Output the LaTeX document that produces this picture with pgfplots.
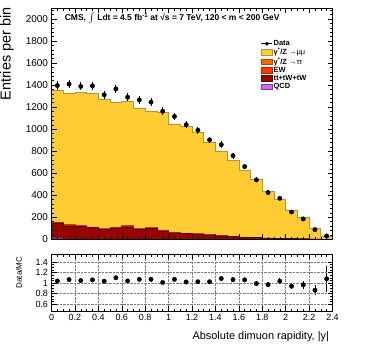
\documentclass[border=0pt]{standalone}
\usepackage{fontspec}
\setmainfont{Liberation Sans}
\usepackage{pgfplots}
\usepackage{pgfplotstable}
\pgfplotsset{compat=1.18}

\definecolor{zmm}{RGB}{255,204,51}
\definecolor{zmmline}{RGB}{185,145,60}
\definecolor{ztt}{RGB}{255,102,0}
\definecolor{ew}{RGB}{255,51,0}
\definecolor{ttb}{RGB}{153,0,0}
\definecolor{qcd}{RGB}{204,102,255}

% upper edge of every layer of the stack, by bin low edge (last row closes the step)
\pgfplotstableread{
lo   mumu  tautau ew   ttbar qcd
0.0  1355  156    152  147   12
0.1  1330  136    130  121   3
0.2  1335  124    120  116   1
0.3  1325  113    110  106   0
0.4  1275  97     94   89    0
0.5  1245  109    105  100   0
0.6  1250  125    120  106   0
0.7  1193  97     93   88    0
0.8  1166  106    102  97    0
0.9  1155  85     81   76    0
1.0  1048  67     63   58    0
1.1  1027  58     55   50    0
1.2  969   50     48   45    0
1.3  882   43     41   38    0
1.4  803   34     32   30    0
1.5  721   29     28   26    0
1.6  630   21     20   18    0
1.7  545   17     16   14    0
1.8  440   13     12   11    0
1.9  364   10     9    8     0
2.0  266   7      7    6     0
2.1  196   5      5    4     0
2.2  103   3      3    3     0
2.3  30    2      2    2     0
2.4  30    2      2    2     0
}\stacks

\pgfplotstableread{
ctr   data  err  ratio  rerr
0.05  1396  37   1.04   0.028
0.15  1409  38   1.065  0.029
0.25  1388  37   1.047  0.028
0.35  1393  37   1.06   0.029
0.45  1312  36   1.035  0.029
0.55  1365  37   1.10   0.030
0.65  1290  36   1.04   0.030
0.75  1266  36   1.07   0.030
0.85  1245  35   1.07   0.031
0.95  1163  34   1.01   0.030
1.05  1115  33   1.07   0.032
1.15  1040  32   1.02   0.032
1.25  991   31   1.025  0.033
1.35  903   30   1.025  0.035
1.45  860   29   1.085  0.037
1.55  760   28   1.065  0.039
1.65  660   26   1.06   0.042
1.75  539   23   0.99   0.044
1.85  424   21   0.97   0.048
1.95  372   19   1.035  0.055
2.05  248   16   0.94   0.062
2.15  185   14   0.965  0.072
2.25  88    9    0.865  0.095
2.35  30    5    1.08   0.25
}\points

\pgfplotsset{
  hist/.style={const plot, line width=0.6bp,
    legend image code/.code={\draw[##1, line width=0.5bp] (0bp,-2.8bp) rectangle (11bp,2.8bp);}},
  datapts/.style={only marks, mark=*, mark size=2.2bp, black,
    error bars/y dir=both, error bars/y explicit, error bars/error mark=none,
    error bars/error bar style={line width=0.8bp, black}},
}

\begin{document}
\begin{tikzpicture}
\path[use as bounding box] (0,0) rectangle (374bp,-359bp);
\pgfplotsset{every axis/.append style={
  scale only axis, width=281bp, xmin=0, xmax=2.4,
  axis on top, tick align=inside,
  axis line style={line width=0.7bp},
  every tick/.style={black, line width=0.5bp},
  major tick length=5bp, minor tick length=2.5bp,
  xtick distance=0.2, minor x tick num=3,
  /pgf/number format/assume math mode=true,
  /pgf/number format/1000 sep={},
}}

% main panel
\begin{axis}[
  at={(51.5bp,-239.3bp)}, anchor=south west, height=231.3bp,
  ymin=0, ymax=2100, ytick distance=200, minor y tick num=4,
  xticklabels={},
  yticklabel style={font=\fontsize{10}{12}\selectfont},
  ylabel={Entries per bin},
  every axis y label/.style={at={(axis description cs:-0.122,1.018)}, rotate=90, anchor=south east, font=\fontsize{14.5}{16}\selectfont},
  legend cell align=left,
  legend style={at={(rel axis cs:0.745,0.864)}, anchor=north west, draw=none, fill=none,
    font=\fontsize{7.5}{8}\selectfont, inner sep=0pt, row sep=-0.4bp,
    nodes={inner sep=0.8bp}},
]
\addlegendimage{legend image code/.code={\draw[black, line width=0.8bp] (0bp,0bp) -- (11bp,0bp); \fill[black] (5.5bp,0bp) circle (1.7bp);}}
\addlegendentry{\bfseries Data}
\addplot[hist, fill=zmm, draw=zmmline] table[x=lo, y=mumu] {\stacks} \closedcycle;
\addlegendentry{{\bfseries γ\textsuperscript{*}/Z} →μμ}
\addplot[hist, fill=ztt, draw=ztt!70!black] table[x=lo, y=tautau] {\stacks} \closedcycle;
\addlegendentry{{\bfseries γ\textsuperscript{*}/Z} →ττ}
\addplot[hist, fill=ew, draw=ew!70!black] table[x=lo, y=ew] {\stacks} \closedcycle;
\addlegendentry{\bfseries EW}
\addplot[hist, fill=ttb, draw=ttb!60!black] table[x=lo, y=ttbar] {\stacks} \closedcycle;
\addlegendentry{\bfseries t$\bar{\mbox{t}}$+tW+$\bar{\mbox{t}}$W}
\addplot[hist, fill=qcd, draw=qcd!60!black] table[x=lo, y=qcd] {\stacks} \closedcycle;
\addlegendentry{\bfseries QCD}
\addplot[forget plot, datapts] table[x=ctr, y=data, y error=err] {\points};
\node[anchor=west, font=\fontsize{8.5}{9}\selectfont\bfseries] at (rel axis cs:0.035,0.958)
  {CMS, {\fontsize{12}{12}\selectfont$\int$} Ldt = 4.5 fb\textsuperscript{-1} at √s = 7 TeV, 120 < m < 200 GeV};
\end{axis}

% ratio panel
\begin{axis}[
  at={(51.5bp,-311bp)}, anchor=south west, height=57bp,
  ymin=0.47, ymax=1.55, ytick={0.6,0.8,1,1.2,1.4}, minor y tick num=3,
  grid=major, major grid style={densely dotted, gray, line width=0.4bp},
  tick label style={font=\fontsize{9}{10}\selectfont},
  xlabel={Absolute dimuon rapidity, |y|},
  every axis x label/.style={at={(axis description cs:1,-0.3)}, anchor=north east, font=\fontsize{11}{13}\selectfont},
  ylabel={Data/MC},
  every axis y label/.style={at={(axis description cs:-0.116,0.675)}, rotate=90, anchor=center, font=\fontsize{8}{9}\selectfont},
]
\addplot[datapts] table[x=ctr, y=ratio, y error=rerr] {\points};
\end{axis}
\end{tikzpicture}
\end{document}
